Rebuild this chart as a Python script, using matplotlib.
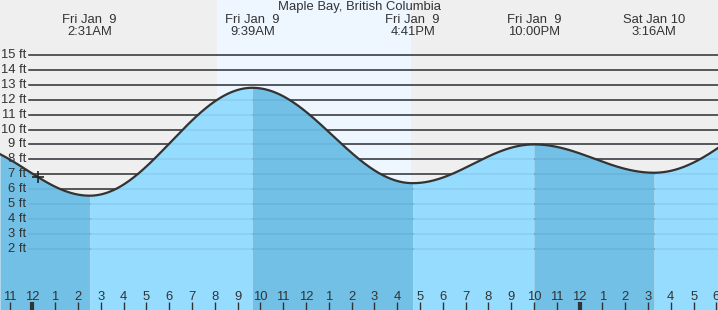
import numpy as np
import matplotlib.pyplot as plt
import matplotlib.transforms as mtransforms

plt.rcParams['font.family'] = ['Liberation Sans', 'DejaVu Sans']

title = "Maple Bay, British Columbia"

# tide extremes, hours from midnight Fri Jan 9 (first and last are off the chart)
tide_hours = [-3.0, 2.517, 9.65, 16.683, 22.0, 27.267, 34.75]
tide_feet = [9.0, 5.56, 12.8, 6.4, 9.0, 7.1, 12.5]
tide_labels = [None, "Fri Jan  9\n2:31AM", "Fri Jan  9\n9:39AM", "Fri Jan  9\n4:41PM",
               "Fri Jan  9\n10:00PM", "Sat Jan 10\n3:16AM", None]

sunrise, sunset = 8.08, 16.6
now_hour, now_feet = 0.24, 6.8

hour_ticks = list(range(-1, 31))
ft_ticks = list(range(2, 16))

W, H = 718, 310
x0, x1 = -1.417, 30.07
y0, y1 = -2.11, 18.69

night_bg = '#efefef'
day_bg = '#eef7ff'
water_rise = '#96dcff'
water_fall = '#72c0e6'
ink = '#333333'


def tide_at(t):
    t = np.asarray(t, dtype=float)
    out = np.empty_like(t)
    for i in range(len(tide_hours) - 1):
        a, b = tide_hours[i], tide_hours[i + 1]
        m = (t >= a) & (t <= b)
        f = (t[m] - a) / (b - a)
        out[m] = tide_feet[i] + (tide_feet[i + 1] - tide_feet[i]) * (1 - np.cos(np.pi * f)) / 2
    return out


fig = plt.figure(figsize=(W / 100, H / 100), dpi=100, facecolor=night_bg)
ax = fig.add_axes([0, 0, 1, 1])
ax.set_xlim(x0, x1)
ax.set_ylim(y0, y1)
ax.axis('off')

ax.axvspan(sunrise, sunset, color=day_bg, lw=0, zorder=0)

for f in ft_ticks:
    ax.axhline(f, xmin=29 / W, color=ink, lw=1.1, zorder=1)

for i in range(len(tide_hours) - 1):
    a = max(tide_hours[i], x0)
    b = min(tide_hours[i + 1], x1)
    if b <= a:
        continue
    ts = np.linspace(a, b, 300)
    col = water_rise if tide_feet[i + 1] > tide_feet[i] else water_fall
    ax.fill_between(ts, tide_at(ts), y0 - 1, color=col, lw=0, zorder=2)

for f in ft_ticks:
    ax.axhline(f, xmin=29 / W, color=(0, 0.1, 0.3, 0.08), lw=1.1, zorder=3)

tt = np.linspace(x0, x1, 1500)
ax.plot(tt, tide_at(tt), color=ink, lw=1.6, zorder=4)
ax.plot(now_hour, now_feet, marker='+', ms=9, mew=1.2, color='#222222', zorder=5)

ylab_tr = mtransforms.blended_transform_factory(ax.transAxes, ax.transData)
for f in ft_ticks:
    ax.text(26 / W, f, f"{f} ft", transform=ylab_tr, ha='right', va='center',
            fontsize=9.4, color=ink, zorder=6)

xlab_tr = mtransforms.blended_transform_factory(ax.transData, ax.transAxes)
for h in hour_ticks:
    ax.text(h, 1 - 297 / H, str(h % 12 or 12), transform=xlab_tr, ha='center',
            va='center', fontsize=9.4, color=ink, zorder=6)
    ax.plot([h, h], [0, 8 / H], transform=xlab_tr, color=ink,
            lw=3 if h % 24 == 0 else 1, solid_capstyle='butt', zorder=6)

for h, lab in zip(tide_hours, tide_labels):
    if lab is None:
        continue
    top, bottom = lab.split('\n')
    ax.text(h, 1 - 20 / H, top, transform=xlab_tr, ha='center', va='center',
            fontsize=9.4, color=ink)
    ax.text(h, 1 - 32 / H, bottom, transform=xlab_tr, ha='center', va='center',
            fontsize=9.4, color=ink)

ax.text(0.5, 1 - 7 / H, title, transform=ax.transAxes, ha='center', va='center',
        fontsize=9.4, color=ink)

fig.savefig('out.png', dpi=100, facecolor=night_bg)
